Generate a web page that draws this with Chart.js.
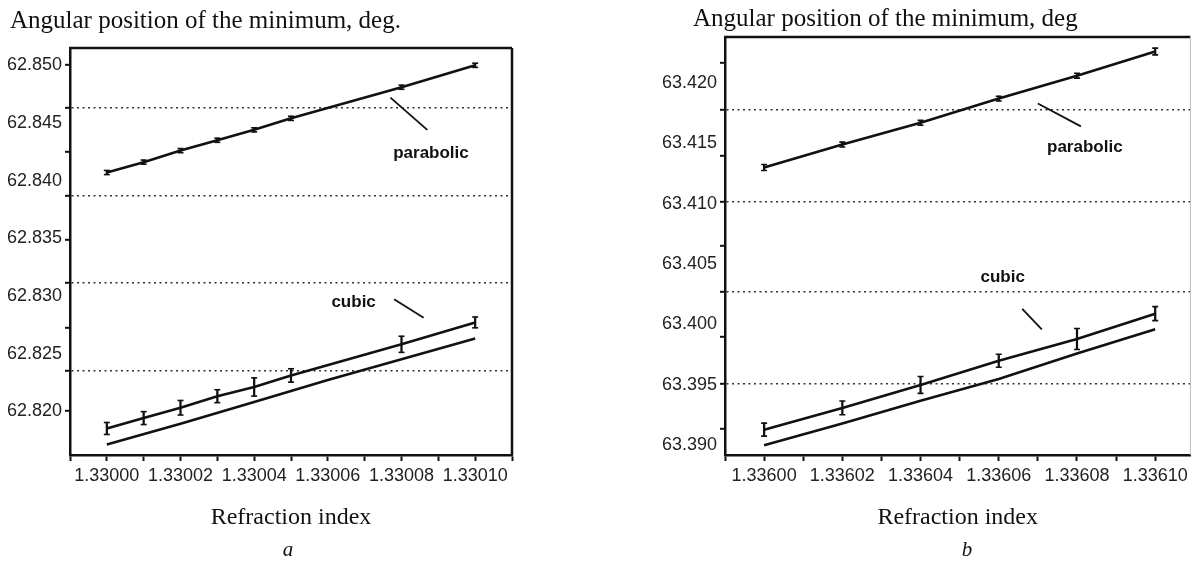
<!DOCTYPE html>
<html>
<head>
<meta charset="utf-8">
<script src="https://cdn.jsdelivr.net/npm/chart.js@4.4.1/dist/chart.umd.min.js"></script>
<style>
  html, body { margin: 0; padding: 0; background: #fff; }
  #wrap { position: relative; width: 1196px; height: 563px; overflow: hidden; background: #fff; }
  .panel { position: absolute; top: 0; width: 598px; height: 563px; }
  #panelA { left: 0; }
  #panelB { left: 598px; }
  .heading { position: absolute; white-space: nowrap; line-height: 30px;
             font: 25px "Liberation Serif", "Times New Roman", serif; color: #111; }
  .letter { position: absolute; top: 537px; width: 40px; text-align: center; line-height: 24px;
            font: italic 21px "Liberation Serif", "Times New Roman", serif; color: #111; }
</style>
</head>
<body>
<div id="wrap">
  <div class="panel" id="panelA"><canvas id="chartA" width="598" height="563"></canvas></div>
  <div class="panel" id="panelB"><canvas id="chartB" width="598" height="563"></canvas></div>
  <div class="heading" style="left:10px; top:6px">Angular position of the minimum, deg.</div>
  <div class="heading" style="left:693px; top:4px">Angular position of the minimum, deg</div>
  <div class="letter" style="left:268px">a</div>
  <div class="letter" style="left:947px">b</div>
</div>
<script>
// ---- panel a : n around 1.33000 ----
let nA = [1.33000, 1.33001, 1.33002, 1.33003, 1.33004, 1.33005, 1.33008, 1.33010];
let parabolicA = [62.8407, 62.8416, 62.8426, 62.8435, 62.8444, 62.8454, 62.8481, 62.8500];
let parabolicErrA = [0.00018, 0.00018, 0.00018, 0.00018, 0.00018, 0.00018, 0.00018, 0.00018];
let cubicA = [62.8185, 62.8194, 62.8203, 62.8213, 62.8221, 62.8231, 62.8258, 62.8277];
let cubicErrA = [0.00052, 0.00056, 0.00063, 0.00056, 0.00079, 0.00058, 0.00070, 0.00047];
let fitNA = [1.33000, 1.33002, 1.33004, 1.33006, 1.33008, 1.33010];
let fitA = [62.8171, 62.8189, 62.8208, 62.8227, 62.8245, 62.8263];
let yLabelsA = [62.820, 62.825, 62.830, 62.835, 62.840, 62.845, 62.850];
let yMarksA = [62.8500, 62.8463, 62.8425, 62.8387, 62.8349, 62.8311, 62.8272, 62.8235, 62.8200];
let yDottedA = [62.8463, 62.8387, 62.8311, 62.8235];
let xTicksA = [1.32999, 1.33000, 1.33001, 1.33002, 1.33003, 1.33004, 1.33005, 1.33006,
    1.33007, 1.33008, 1.33009, 1.33010, 1.33011];
let xLabelsA = [1.33000, 1.33002, 1.33004, 1.33006, 1.33008, 1.33010];

// ---- panel b : n around 1.33600 ----
let nB = [1.33600, 1.33602, 1.33604, 1.33606, 1.33608, 1.33610];
let parabolicB = [63.4130, 63.4149, 63.4167, 63.4187, 63.4206, 63.4226];
let parabolicErrB = [0.00025, 0.00020, 0.00020, 0.00020, 0.00020, 0.00028];
let cubicB = [63.3913, 63.3931, 63.3950, 63.3970, 63.3988, 63.4009];
let cubicErrB = [0.00054, 0.00057, 0.00070, 0.00054, 0.00087, 0.00058];
let fitNB = [1.33600, 1.33602, 1.33604, 1.33606, 1.33608, 1.33610];
let fitB = [63.3900, 63.3918, 63.3937, 63.3955, 63.3976, 63.3996];
let yLabelsB = [63.390, 63.395, 63.400, 63.405, 63.410, 63.415, 63.420];
let yMarksB = [63.4217, 63.4178, 63.4140, 63.4102, 63.4065, 63.4027, 63.3990, 63.3951, 63.3914];
let yDottedB = [63.4178, 63.4102, 63.4027, 63.3951];
let xTicksB = [1.33599, 1.33600, 1.33601, 1.33602, 1.33603, 1.33604, 1.33605, 1.33606,
    1.33607, 1.33608, 1.33609, 1.33610];
let xLabelsB = [1.33600, 1.33602, 1.33604, 1.33606, 1.33608, 1.33610];

let ink = "#111";
let serif = '"Liberation Serif", "Times New Roman", serif';
let tickFont = { family: '"Liberation Sans", Arial, sans-serif', size: 18 };

function near(list, v, tol) {
    return list.some(t => Math.abs(t - v) < tol);
}

function points(xs, ys) {
    return xs.map((x, i) => ({ x: x, y: ys[i] }));
}

function errorBars(xs, ys, errs) {
    return xs.map((x, i) => ({ x: x, y: [ys[i] - errs[i], ys[i] + errs[i]] }));
}

function errorCaps(xs, ys, errs) {
    let caps = [];
    xs.forEach((x, i) => {
        caps.push({ x: x, y: ys[i] - errs[i] });
        caps.push({ x: x, y: ys[i] + errs[i] });
    });
    return caps;
}

// top and right edge of the plot box
let framePlugin = {
    id: "frame",
    beforeDatasetsDraw(chart, args, opts) {
        let a = chart.chartArea;
        let ctx = chart.ctx;
        ctx.save();
        ctx.strokeStyle = ink;
        ctx.lineWidth = 2.5;
        ctx.beginPath();
        ctx.moveTo(a.left - 1, a.top);
        ctx.lineTo(a.right, a.top);
        ctx.stroke();
        ctx.strokeStyle = opts.rightColor;
        ctx.lineWidth = opts.rightWidth;
        ctx.beginPath();
        ctx.moveTo(a.right, a.top);
        ctx.lineTo(a.right, a.bottom);
        ctx.stroke();
        ctx.restore();
    }
};

// "parabolic" / "cubic" labels with their pointer strokes
let notesPlugin = {
    id: "notes",
    afterDatasetsDraw(chart, args, opts) {
        let ctx = chart.ctx;
        let x = chart.scales.x;
        let y = chart.scales.y;
        ctx.save();
        (opts.items || []).forEach(n => {
            ctx.strokeStyle = ink;
            ctx.lineWidth = 1.8;
            ctx.beginPath();
            ctx.moveTo(x.getPixelForValue(n.from[0]), y.getPixelForValue(n.from[1]));
            ctx.lineTo(x.getPixelForValue(n.to[0]), y.getPixelForValue(n.to[1]));
            ctx.stroke();
            ctx.font = 'bold 17px "Liberation Sans", Arial, sans-serif';
            ctx.fillStyle = ink;
            ctx.textAlign = "center";
            ctx.textBaseline = "middle";
            ctx.fillText(n.text, x.getPixelForValue(n.x), y.getPixelForValue(n.y));
        });
        ctx.restore();
    }
};

function makeChart(id, p) {
    let yTicks = p.yLabels.concat(p.yMarks.filter(v => !near(p.yLabels, v, 1e-6)));
    let lineStyle = { borderColor: ink, borderWidth: 2.6, pointRadius: 0, tension: 0, order: 1 };
    let barStyle = { type: "bar", backgroundColor: ink, borderWidth: 0, barThickness: 1.6, grouped: false, order: 2 };
    let capStyle = { type: "line", showLine: false, pointStyle: "line", pointRadius: 3,
        pointBorderColor: ink, pointBorderWidth: 1.6, order: 2 };

    return new Chart(document.getElementById(id), {
        type: "line",
        data: {
            datasets: [
                Object.assign({ type: "line", data: points(p.n, p.parabolic) }, lineStyle),
                Object.assign({ type: "line", data: points(p.n, p.cubic) }, lineStyle),
                Object.assign({ type: "line", data: points(p.fitN, p.fit) }, lineStyle),
                Object.assign({ data: errorBars(p.n, p.cubic, p.cubicErr) }, barStyle),
                Object.assign({ data: errorBars(p.n, p.parabolic, p.parabolicErr) }, barStyle),
                Object.assign({ data: errorCaps(p.n, p.cubic, p.cubicErr) }, capStyle),
                Object.assign({ data: errorCaps(p.n, p.parabolic, p.parabolicErr) }, capStyle)
            ]
        },
        options: {
            responsive: false,
            animation: false,
            layout: { padding: p.padding },
            scales: {
                x: {
                    type: "linear",
                    min: p.xRange[0],
                    max: p.xRange[1],
                    offset: false,
                    afterBuildTicks: s => { s.ticks = p.xTicks.map(v => ({ value: v })); },
                    afterFit: s => { s.height = 108; },
                    ticks: {
                        autoSkip: false, maxRotation: 0, padding: 4, font: tickFont, color: "#222",
                        callback: v => near(p.xLabels, v, 1e-8) ? v.toFixed(5) : ""
                    },
                    grid: { drawOnChartArea: false, offset: false, tickLength: 6, tickWidth: 2, tickColor: ink },
                    border: { color: ink, width: 2.5 },
                    title: {
                        display: true, text: "Refraction index", color: ink,
                        font: { family: serif, size: 24 }, padding: { top: 0, bottom: 31 }
                    }
                },
                y: {
                    type: "linear",
                    min: p.yRange[0],
                    max: p.yRange[1],
                    afterBuildTicks: s => { s.ticks = yTicks.map(v => ({ value: v })); },
                    afterFit: s => { s.width = p.yWidth; },
                    ticks: {
                        autoSkip: false, padding: 3, font: tickFont, color: "#222",
                        callback: v => near(p.yLabels, v, 1e-6) ? v.toFixed(3) : ""
                    },
                    grid: {
                        lineWidth: 1.6,
                        color: c => (c.tick && near(p.yDotted, c.tick.value, 1e-6)) ? "#333" : "rgba(0,0,0,0)",
                        tickLength: 5,
                        tickWidth: 2,
                        tickColor: c => (c.tick && near(p.yMarks, c.tick.value, 1e-6)) ? ink : "rgba(0,0,0,0)"
                    },
                    border: { color: ink, width: 2.5, dash: [2, 3.5] }
                }
            },
            plugins: {
                legend: { display: false },
                tooltip: { enabled: false },
                frame: p.frame,
                notes: { items: p.notes }
            }
        },
        plugins: [framePlugin, notesPlugin]
    });
}

makeChart("chartA", {
    n: nA, parabolic: parabolicA, parabolicErr: parabolicErrA, cubic: cubicA, cubicErr: cubicErrA,
    fitN: fitNA, fit: fitA,
    yLabels: yLabelsA, yMarks: yMarksA, yDotted: yDottedA, xTicks: xTicksA, xLabels: xLabelsA,
    xRange: [1.32999, 1.33011], yRange: [62.8162, 62.8515],
    padding: { left: 2, right: 86, top: 48, bottom: 0 },
    yWidth: 68,
    frame: { rightColor: ink, rightWidth: 2.5 },
    notes: [
        { text: "parabolic", x: 1.330088, y: 62.8424, from: [1.330077, 62.8472], to: [1.330087, 62.8444] },
        { text: "cubic", x: 1.330067, y: 62.8294, from: [1.330078, 62.8297], to: [1.330086, 62.8281] }
    ]
});

makeChart("chartB", {
    n: nB, parabolic: parabolicB, parabolicErr: parabolicErrB, cubic: cubicB, cubicErr: cubicErrB,
    fitN: fitNB, fit: fitB,
    yLabels: yLabelsB, yMarks: yMarksB, yDotted: yDottedB, xTicks: xTicksB, xLabels: xLabelsB,
    xRange: [1.33599, 1.336109], yRange: [63.3892, 63.4238],
    padding: { left: 40, right: 1, top: 37, bottom: 0 },
    yWidth: 87,
    frame: { rightColor: "#bbb", rightWidth: 1 },
    notes: [
        { text: "parabolic", x: 1.336082, y: 63.4147, from: [1.336070, 63.4183], to: [1.336081, 63.4164] },
        { text: "cubic", x: 1.336061, y: 63.4039, from: [1.336066, 63.4013], to: [1.336071, 63.3996] }
    ]
});
</script>
</body>
</html>
